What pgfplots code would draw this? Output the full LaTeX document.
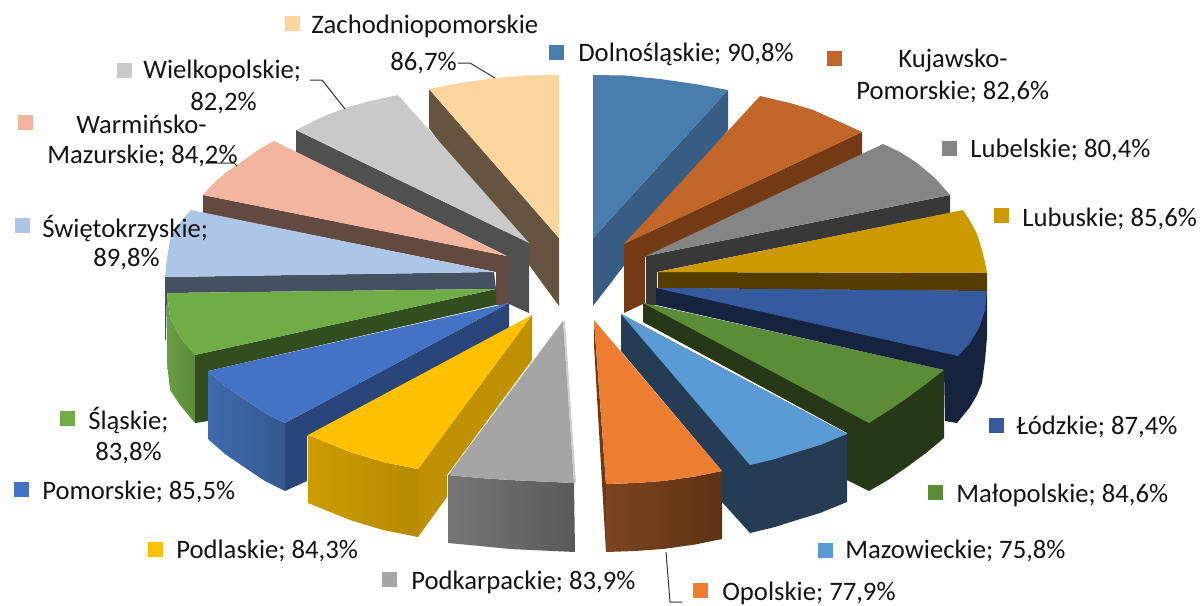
\documentclass[border=0pt]{standalone}
\usepackage{pgfplots}
\pgfplotsset{compat=1.18}
\usepackage{fontspec}
\setmainfont{Carlito}
\newcommand\dc[1]{\definecolor{c#1}{HTML}{#1}}
\dc{65543F}\dc{FCD69D}\dc{375D84}\dc{497DAE}\dc{733A15}\dc{C26528}\dc{383838}\dc{858585}
\dc{553D00}\dc{CC9900}\dc{15233F}\dc{365A9E}\dc{263816}\dc{5B8C37}\dc{243D55}\dc{5B9BD5}
\dc{6B3A17}\dc{7C4420}\dc{5F3214}\dc{ED7D31}\dc{505050}\dc{C9C9C9}\dc{624A41}\dc{F4B59F}
\dc{455060}\dc{ADC5E7}\dc{6A9E43}\dc{5A8A36}\dc{324D1E}\dc{70AD47}\dc{29457A}\dc{3F6AAF}
\dc{35598F}\dc{4472C4}\dc{BF9000}\dc{CC9C00}\dc{B58B00}\dc{FFC000}\dc{D0D0D0}\dc{767676}
\dc{5A5A5A}\dc{A5A5A5}
\newcommand\poly[2]{\addplot[fill=#1,draw=none,forget plot] coordinates {#2};}
\newcommand\grad[3]{\addplot[left color=#1,right color=#2,draw=none,forget plot] coordinates {#3};}
\newcommand\lab[3]{\node[anchor=west,inner sep=0pt,yshift=-0.6pt,text=black!92,font=\fontsize{16}{18}\selectfont] at (axis cs:#1,#2) {#3};}
\newcommand\mk[3]{\addplot[only marks,mark=square*,mark size=4.1pt,mark options={fill=#1,draw=#1},forget plot] coordinates {(#2,#3)};}
\newcommand\lead[1]{\addplot[draw=black!80,line width=0.6pt,forget plot] coordinates {#1};}
\begin{document}
\begin{tikzpicture}
\begin{axis}[scale only axis,width=720pt,height=363pt,xmin=0,xmax=1200,ymin=0,ymax=605,y dir=reverse,hide axis,clip=false]
\path (axis cs:0,0) rectangle (axis cs:1200,605);
% Zachodniopomorskie
\poly{c65543F}{(429,89)(559,238)(559,306)(429,128)}
\poly{cFCD69D}{(559,238)(559,75)(525,75.5)(495,78)(460,83)(429,89)}
% Dolnoslaskie
\poly{c375D84}{(593,238)(728,90)(728,130)(593,306)}
\poly{c497DAE}{(593,238)(593,75)(625,75.5)(660,79)(695,84)(728,90)}
% Kujawsko
\poly{c733A15}{(624,244)(862,132)(862,155)(645,257)(645,303)(624,313)}
\poly{cC26528}{(624,244)(760,96)(790,103)(813,110)(840,122)(862,132)}
% Lubelskie
\poly{c383838}{(646,256)(950,195)(950,213)(657,272)(657,305)(646,305)}
\poly{c858585}{(646,256)(883,144)(900,152)(917,163)(935,178)(950,195)}
% Lubuskie
\poly{c553D00}{(658,272)(987,273)(987,291)(658,288)}
\poly{cCC9900}{(658,272)(963,210)(970,221)(977,234)(982,250)(985,262)(987,273)}
% Lodzkie
\poly{c15233F}{(656,288)(987,291)(987,337)(985,360)(982,383)(977,395)(970,407)(957,423)(945,421)(944,370)(656,305)}
\poly{c365A9E}{(656,288)(987,291)(985,310)(979,328)(970,343)(958,356)}
% Malopolskie
\poly{c263816}{(643,303)(944,370)(944,438)(926,453)(907,467)(888,480)(869,491)(847,480)(847,433)(643,322)}
\poly{c5B8C37}{(643,303)(944,370)(926,384)(907,398)(888,411)(869,423)}
% Mazowieckie
\poly{c243D55}{(621,314)(847,434)(847,502)(820,513)(797,520)(775,527)(750,533)(722,502)(722,471)(621,351)}
\poly{c5B9BD5}{(621,314)(847,434)(820,445)(797,452)(775,459)(750,465)}
% Opolskie
\poly{c6B3A17}{(594,320)(606,484)(606,552)(594,345)}
\grad{c7C4420}{c5F3214}{(606,484)(635,483)(663,481)(695,476.5)(722,471)(722,539)(695,544.5)(663,549)(635,551)(606,552)}
\poly{cED7D31}{(594,320)(722,471)(695,476.5)(663,481)(635,483)(606,484)}
% Wielkopolskie / Warminsko
\poly{c505050}{(296,130)(529,243)(529,313)(507,303)(507,256)(296,152)}
\poly{cC9C9C9}{(529,243)(398,95)(370,101)(345,108)(320,118)(296,130)}
\poly{c624A41}{(203,195)(507,256)(507,305)(496,305)(496,272)(203,213)}
\poly{cF4B59F}{(507,256)(274,141)(258,150)(240,163)(228,171)(217,180)(210,187)(203,195)}
% Swietokrzyskie
\poly{c455060}{(165,277)(494,272)(496,289)(167,293)(166,340)(165,340)}
\poly{cADC5E7}{(494,272)(191,210)(182,220)(175,230)(170,240)(167,258)(165,277)}
% Slaskie
\grad{c6A9E43}{c5A8A36}{(167,293)(170,317)(180,337)(195,355)(195,423)(180,405)(170,390)(167,363)}
\poly{c324D1E}{(496,289)(195,355)(195,423)(208,421)(208,371)(496,305)}
\poly{c70AD47}{(496,289)(167,293)(170,317)(180,337)(195,355)}
% Pomorskie
\poly{c29457A}{(509,303)(285,423)(285,491)(307,481)(307,436)(509,330)}
\grad{c3F6AAF}{c35598F}{(208,371)(225,386)(247,401)(265,413)(285,423)(285,491)(265,481)(247,469)(225,454)(208,439)}
\poly{c4472C4}{(509,303)(208,371)(225,386)(247,401)(265,413)(285,423)}
% Podlaskie
\poly{cBF9000}{(532,315)(418,469)(418,537)(447,497)(447,475)(532,360)}
\grad{cCC9C00}{cB58B00}{(308,435)(350,452)(383,462)(418,469)(418,537)(383,530)(350,520)(308,503)}
\poly{cFFC000}{(532,315)(308,435)(350,452)(383,462)(418,469)}
% Podkarpackie
\poly{cD0D0D0}{(563,321)(574,483)(576,483)(565,321)}
\grad{c767676}{c5A5A5A}{(448,475)(480,478)(510,480)(574,483)(575,552)(510,549)(480,546)(448,543)}
\poly{cA5A5A5}{(563,321)(448,475)(480,478)(510,480)(574,483)}
% leaders
\lead{(458,63)(470,63)(495,78)}
\lead{(310,80)(322,80)(345,109)}
\lead{(205,163)(234,163)(237,166)}
\lead{(666,552)(670,602)(682,602)}
% markers
\mk{cFCD69D}{292}{23}
\mk{c497DAE}{556}{52}
\mk{cC26528}{834}{58}
\mk{c858585}{949}{148}
\mk{cCC9900}{1001}{215}
\mk{c365A9E}{996}{425}
\mk{c5B8C37}{935}{492}
\mk{c5B9BD5}{825}{550}
\mk{cED7D31}{700}{590}
\mk{cA5A5A5}{389}{579}
\mk{cFFC000}{155}{549}
\mk{c4472C4}{21}{489}
\mk{c70AD47}{67}{418}
\mk{cADC5E7}{22}{225}
\mk{cF4B59F}{25}{122}
\mk{cC9C9C9}{124}{70}
% labels
\lab{311}{25}{Zachodniopomorskie}
\lab{390}{62}{86,7\%}
\lab{578}{53}{Dolnośląskie; 90,8\%}
\lab{898}{60}{Kujawsko-}
\lab{856}{91}{Pomorskie; 82,6\%}
\lab{970}{149}{Lubelskie; 80,4\%}
\lab{1022}{218}{Lubuskie; 85,6\%}
\lab{1016}{426}{Łódzkie; 87,4\%}
\lab{956}{494}{Małopolskie; 84,6\%}
\lab{845}{550}{Mazowieckie; 75,8\%}
\lab{722}{592}{Opolskie; 77,9\%}
\lab{411}{581}{Podkarpackie; 83,9\%}
\lab{176}{550}{Podlaskie; 84,3\%}
\lab{42}{491}{Pomorskie; 85,5\%}
\lab{88}{420}{Śląskie;}
\lab{95}{452}{83,8\%}
\lab{42}{228}{Świętokrzyskie;}
\lab{93}{258}{89,8\%}
\lab{76}{123}{Warmińsko-}
\lab{47}{155}{Mazurskie; 84,2\%}
\lab{143}{70}{Wielkopolskie;}
\lab{190}{102}{82,2\%}
\end{axis}
\end{tikzpicture}
\end{document}
